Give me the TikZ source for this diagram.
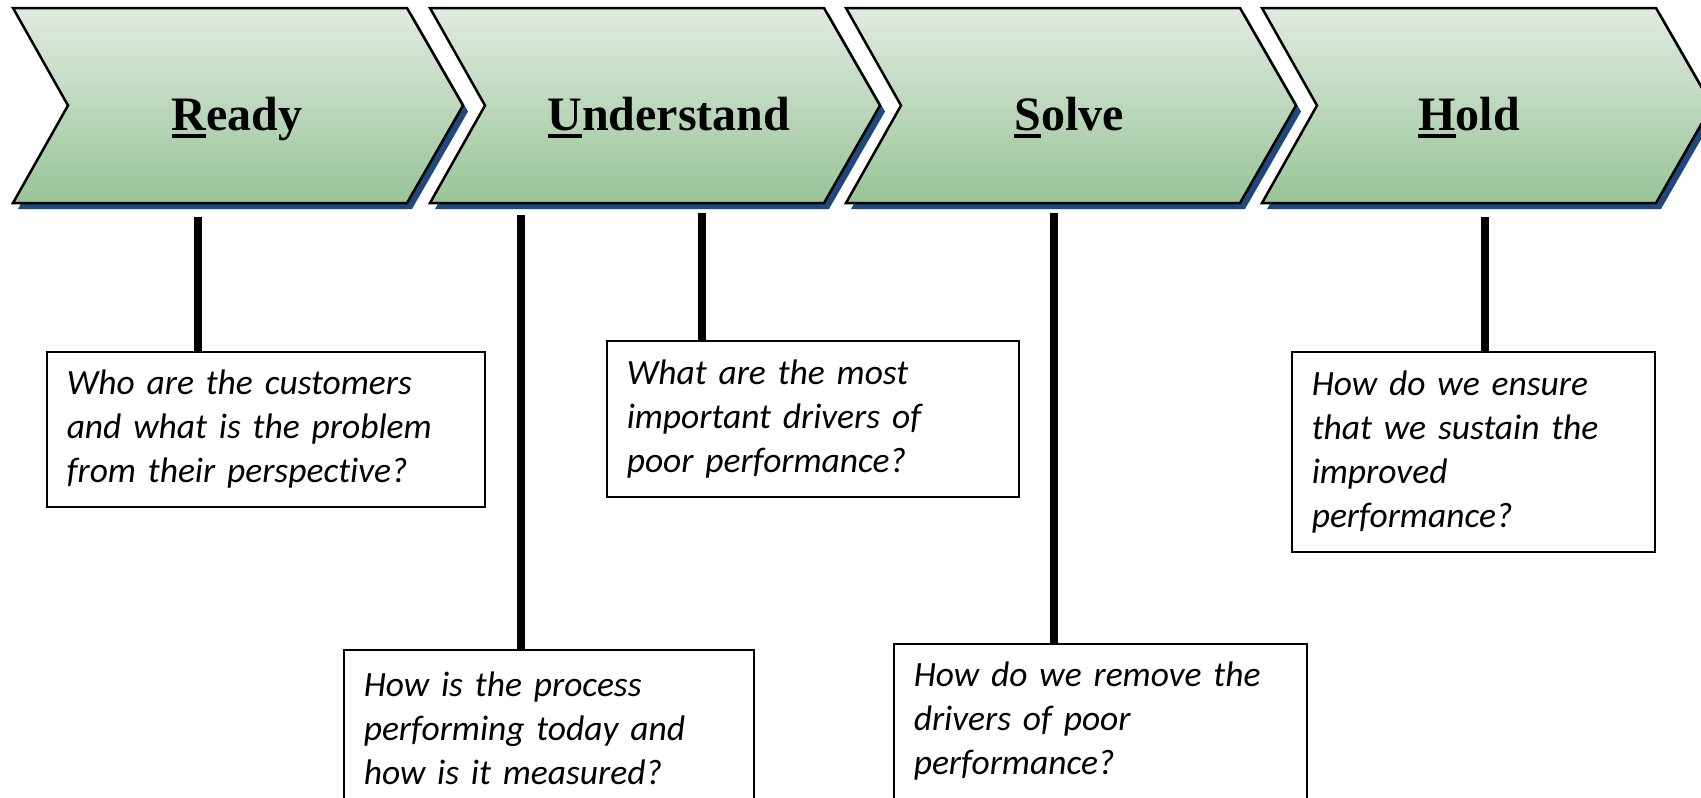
\documentclass[tikz,border=0pt]{standalone}
\usepackage{fontspec}
\setmainfont{Liberation Serif}
\newfontfamily\calibri[Ligatures=NoCommon]{Carlito}
\definecolor{shadowblue}{RGB}{31,73,125}
\definecolor{chevtop}{RGB}{225,235,225}
\definecolor{chevbot}{RGB}{152,196,152}
\newcommand{\ulfirst}[1]{\setbox0\hbox{#1}\rlap{\rule[-8pt]{\wd0}{4pt}}\box0}
\begin{document}
\begin{tikzpicture}[x=1pt, y=-1pt,
        chevron/.style={draw=black, line width=2.5pt, top color=chevtop, bottom color=chevbot},
        title/.style={anchor=base, font=\fontsize{48}{56}\selectfont\bfseries},
        question/.style={draw=black, line width=1.5pt, fill=white, anchor=north west, inner xsep=20pt, inner ysep=0pt, align=left, font=\calibri\itshape\fontsize{35.5}{44}\selectfont},
        stem/.style={line width=8pt}]
        \useasboundingbox (0, 0) rectangle (1701, 798);

        \foreach \x/\c/\t/\n in {13/237/{\ulfirst{R}eady}/ready, 430/669/{\ulfirst{U}nderstand}/understand, 846/1069/{\ulfirst{S}olve}/solve, 1262/1469/{\ulfirst{H}old}/hold} {
            \fill[shadowblue, shift={(5, 6)}] (\x, 8)--({\x+394}, 8)--({\x+450}, 105.5)--({\x+394}, 203)--(\x, 203)--({\x+55}, 105.5)--cycle;
            \draw[chevron] (\x, 8)--({\x+394}, 8)--({\x+450}, 105.5)--({\x+394}, 203)--(\x, 203)--({\x+55}, 105.5)--cycle;
            \node[title] (\n) at (\c, 130) {\t};
        }

        \node[question, text width=398pt, minimum height=155pt] (who) at (46, 351) {Who are the customers\\and what is the problem\\from their perspective?};
        \node[question, text width=370pt, minimum height=157pt] (how) at (343, 649) {How is the process\\performing today and\\how is it measured?};
        \node[question, text width=372pt, minimum height=156pt] (what) at (606, 340) {What are the most\\important drivers of\\poor performance?};
        \node[question, text width=373pt, minimum height=155pt] (remove) at (893, 643) {How do we remove the\\drivers of poor\\performance?};
        \node[question, text width=323pt, minimum height=200pt] (ensure) at (1291, 351) {How do we ensure\\that we sustain the\\improved\\performance?};

        \coordinate (s1) at (198, 217);
        \coordinate (s2) at (521, 215);
        \coordinate (s3) at (702, 213);
        \coordinate (s4) at (1054, 213);
        \coordinate (s5) at (1485, 217);
        \draw[stem] (s1)--(s1 |- who.north);
        \draw[stem] (s2)--(s2 |- how.north);
        \draw[stem] (s3)--(s3 |- what.north);
        \draw[stem] (s4)--(s4 |- remove.north);
        \draw[stem] (s5)--(s5 |- ensure.north);
      \end{tikzpicture}
\end{document}
